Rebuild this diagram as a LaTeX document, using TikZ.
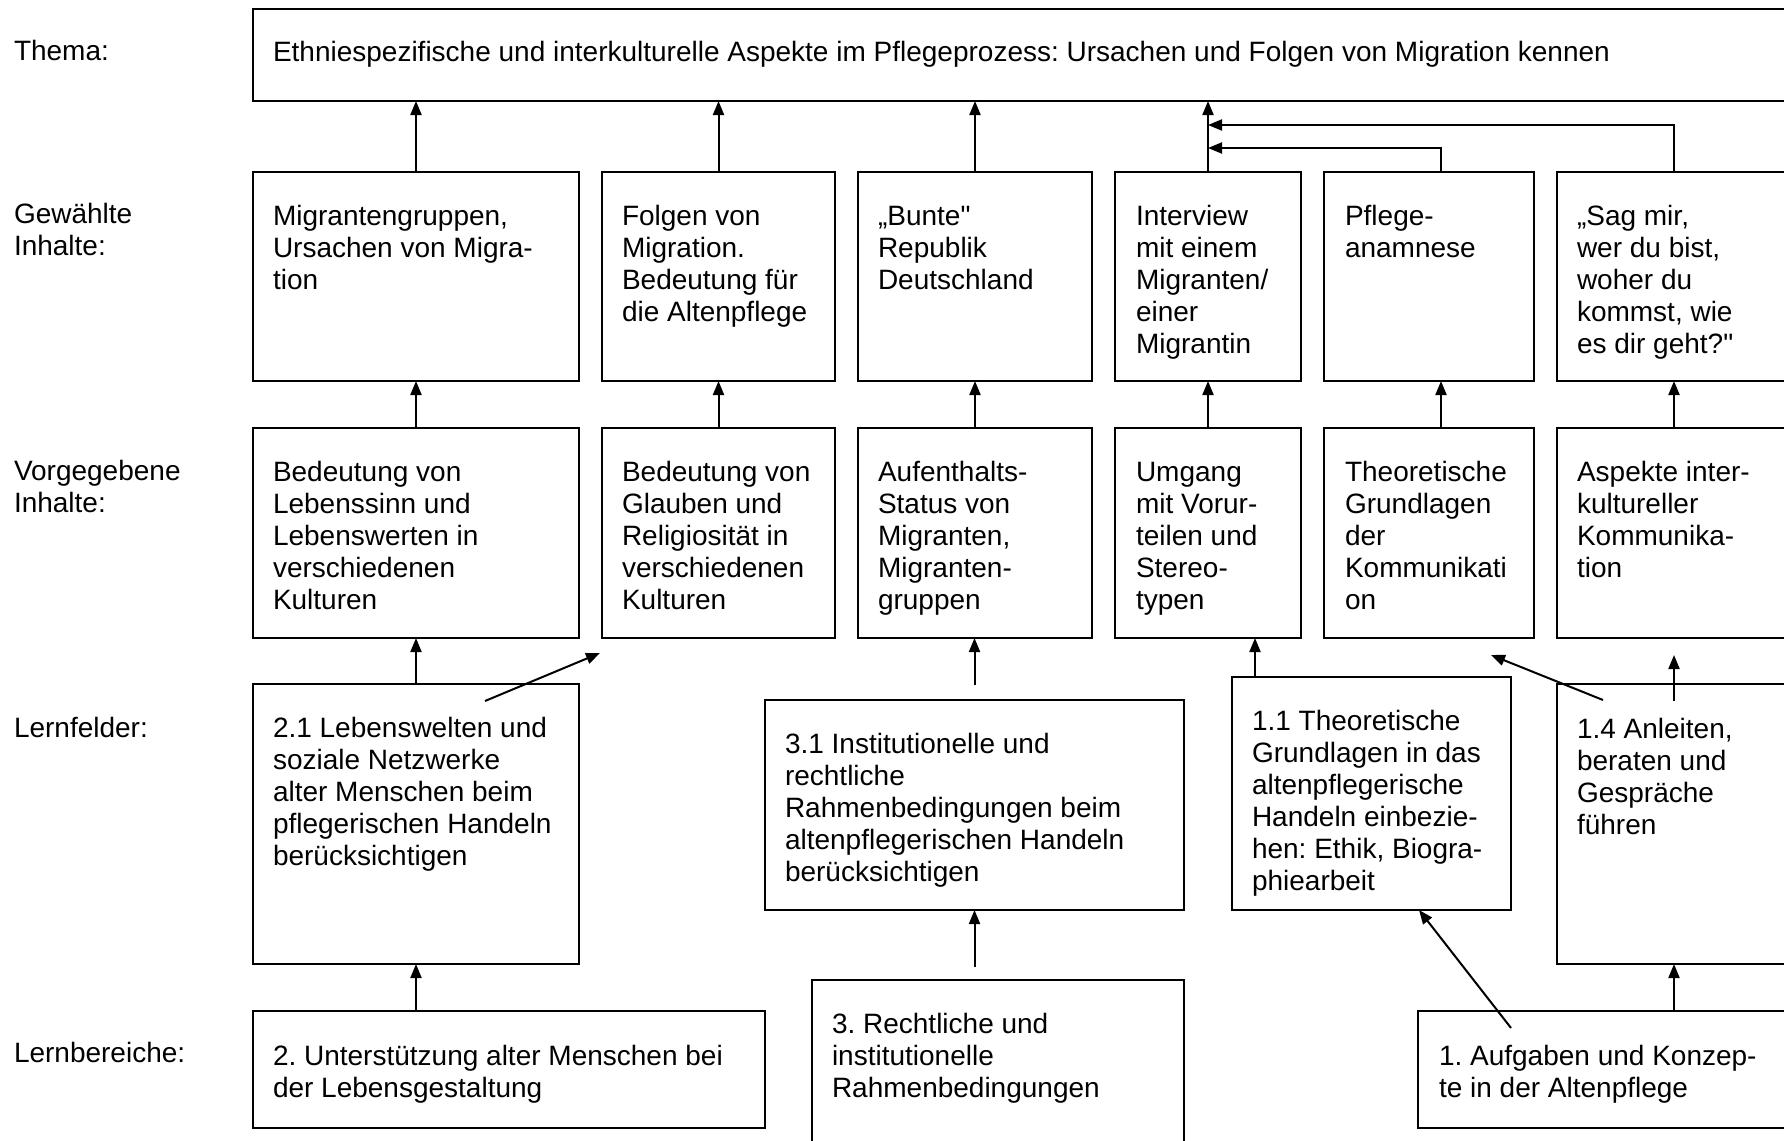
\documentclass[tikz,border=0pt]{standalone}
\usepackage{fontspec}
\setmainfont{Liberation Sans}
\usetikzlibrary{arrows.meta}
\frenchspacing
\newcommand\ml[1]{\begin{tabular}[t]{@{}l@{}}#1\end{tabular}}
\tikzset{
  box/.style={draw, line width=2pt, inner sep=0pt, outer sep=0pt, anchor=north west},
  txt/.style={inner sep=0pt, outer sep=0pt, anchor=base west, font=\fontsize{28}{32}\selectfont},
  arr/.style={line width=2pt, -{Triangle[length=14pt,width=11pt]}},
}
\begin{document}
\begin{tikzpicture}[x=1pt,y=-1pt]
\fill[white] (0,0) rectangle (1784,1140);
\useasboundingbox (0,0) rectangle (1784,1140);

% row labels
\node[txt] (lab1) at (14,60) {Thema:};
\node[txt] (lab2) at (14,223) {\ml{Gewählte\\Inhalte:}};
\node[txt] (lab3) at (14,480) {\ml{Vorgegebene\\Inhalte:}};
\node[txt] (lab4) at (14,737) {Lernfelder:};
\node[txt] (lab5) at (14,1062) {Lernbereiche:};

% Thema
\node[box, minimum width=1547pt, minimum height=92pt] (thema) at (253,9) {};
\node[txt] (themat) at (273,62) {Ethniespezifische und interkulturelle Aspekte im Pflegeprozess: Ursachen und Folgen von Migration kennen};

% Gewaehlte Inhalte
\node[box, minimum width=326pt, minimum height=209pt] (g1) at (253,172) {};
\node[box, minimum width=233pt, minimum height=209pt] (g2) at (602,172) {};
\node[box, minimum width=234pt, minimum height=209pt] (g3) at (858,172) {};
\node[box, minimum width=186pt, minimum height=209pt] (g4) at (1115,172) {};
\node[box, minimum width=210pt, minimum height=209pt] (g5) at (1324,172) {};
\node[box, minimum width=234pt, minimum height=209pt] (g6) at (1557,172) {};
\node[txt] (g1t) at (273,225) {\ml{Migrantengruppen,\\Ursachen von Migra-\\tion}};
\node[txt] (g2t) at (622,225) {\ml{Folgen von\\Migration.\\Bedeutung für\\die Altenpflege}};
\node[txt] (g3t) at (878,225) {\ml{„Bunte\textquotedbl\\Republik\\Deutschland}};
\node[txt] (g4t) at (1136,225) {\ml{Interview\\mit einem\\Migranten/\\einer\\Migrantin}};
\node[txt] (g5t) at (1345,225) {\ml{Pflege-\\anamnese}};
\node[txt] (g6t) at (1577,225) {\ml{„Sag mir,\\wer du bist,\\woher du\\kommst, wie\\es dir geht?\textquotedbl}};

% Vorgegebene Inhalte
\node[box, minimum width=326pt, minimum height=210pt] (v1) at (253,428) {};
\node[box, minimum width=233pt, minimum height=210pt] (v2) at (602,428) {};
\node[box, minimum width=234pt, minimum height=210pt] (v3) at (858,428) {};
\node[box, minimum width=186pt, minimum height=210pt] (v4) at (1115,428) {};
\node[box, minimum width=210pt, minimum height=210pt] (v5) at (1324,428) {};
\node[box, minimum width=234pt, minimum height=210pt] (v6) at (1557,428) {};
\node[txt] (v1t) at (273,481) {\ml{Bedeutung von\\Lebenssinn und\\Lebenswerten in\\verschiedenen\\Kulturen}};
\node[txt] (v2t) at (622,481) {\ml{Bedeutung von\\Glauben und\\Religiosität in\\verschiedenen\\Kulturen}};
\node[txt] (v3t) at (878,481) {\ml{Aufenthalts-\\Status von\\Migranten,\\Migranten-\\gruppen}};
\node[txt] (v4t) at (1136,481) {\ml{Umgang\\mit Vorur-\\teilen und\\Stereo-\\typen}};
\node[txt] (v5t) at (1345,481) {\ml{Theoretische\\Grundlagen\\der\\Kommunikati\\on}};
\node[txt] (v6t) at (1577,481) {\ml{Aspekte inter-\\kultureller\\Kommunika-\\tion}};

% Lernfelder
\node[box, minimum width=326pt, minimum height=280pt] (l21) at (253,684) {};
\node[box, minimum width=419pt, minimum height=210pt] (l31) at (765,700) {};
\node[box, minimum width=279pt, minimum height=233pt] (l11) at (1232,677) {};
\node[box, minimum width=234pt, minimum height=280pt] (l14) at (1557,684) {};
\node[txt] (l21t) at (273,737) {\ml{2.1 Lebenswelten und\\soziale Netzwerke\\alter Menschen beim\\pflegerischen Handeln\\berücksichtigen}};
\node[txt] (l31t) at (785,753) {\ml{3.1 Institutionelle und\\rechtliche\\Rahmenbedingungen beim\\altenpflegerischen Handeln\\berücksichtigen}};
\node[txt] (l11t) at (1252,730) {\ml{1.1 Theoretische\\Grundlagen in das\\altenpflegerische\\Handeln einbezie-\\hen: Ethik, Biogra-\\phiearbeit}};
\node[txt] (l14t) at (1577,738) {\ml{1.4 Anleiten,\\beraten und\\Gespräche\\führen}};

% Lernbereiche
\node[box, minimum width=512pt, minimum height=117pt] (b2) at (253,1011) {};
\node[box, minimum width=372pt, minimum height=190pt] (b3) at (812,980) {};
\node[box, minimum width=382pt, minimum height=117pt] (b1) at (1418,1011) {};
\node[txt] (b2t) at (273,1065) {\ml{2. Unterstützung alter Menschen bei\\der Lebensgestaltung}};
\node[txt] (b3t) at (832,1033) {\ml{3. Rechtliche und\\institutionelle\\Rahmenbedingungen}};
\node[txt] (b1t) at (1439,1065) {\ml{1. Aufgaben und Konzep-\\te in der Altenpflege}};

% helper coordinates
\coordinate (j1) at (1208,148);
\coordinate (j2) at (1208,125);
\coordinate (d1a) at (485,701);
\coordinate (d1b) at (600,653);
\coordinate (d2a) at (1603,700);
\coordinate (d2b) at (1491,655);
\coordinate (d3a) at (1511,1028);
\coordinate (d3b) at (1419,910);
\coordinate (a14) at (1674,701);
\coordinate (a14t) at (1674,655);
\coordinate (l11a) at (1255,677);
\coordinate (g5a) at (1441,172);
\coordinate (v5a) at (1441,428);

% Gewaehlte -> Thema
\foreach \i in {1,2,3,4}{\draw[arr] (g\i.north) -- (g\i.north |- thema.south);}
\draw[arr] (g5a) |- (j1);
\draw[arr] (g6.north) |- (j2);

% Vorgegebene -> Gewaehlte
\foreach \i in {1,2,3,4,6}{\draw[arr] (v\i.north) -- (v\i.north |- g\i.south);}
\draw[arr] (v5a) -- (v5a |- g5.south);

% Lernfelder -> Vorgegebene
\draw[arr] (l21.north) -- (l21.north |- v1.south);
\draw[arr] (d1a) -- (d1b);
\draw[arr, shorten <=15pt] (l31.north) -- (l31.north |- v3.south);
\draw[arr] (l11a) -- (l11a |- v4.south);
\draw[arr] (d2a) -- (d2b);
\draw[arr] (a14) -- (a14t);

% Lernbereiche -> Lernfelder
\draw[arr] (l21.south |- b2.north) -- (l21.south);
\draw[arr, shorten <=13pt] (l31.south |- b3.north) -- (l31.south);
\draw[arr] (l14.south |- b1.north) -- (l14.south);
\draw[arr] (d3a) -- (d3b);
\end{tikzpicture}
\end{document}
